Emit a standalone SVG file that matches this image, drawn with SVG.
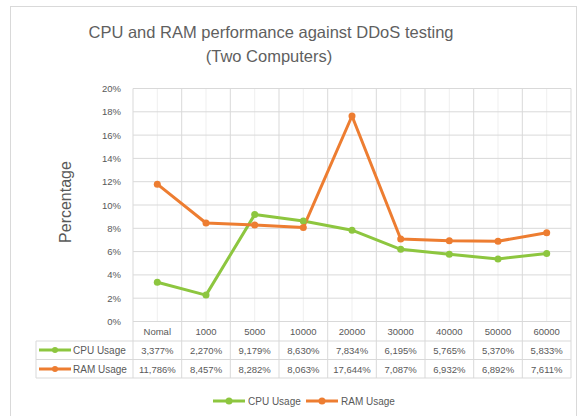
<svg xmlns="http://www.w3.org/2000/svg" width="579" height="416" viewBox="0 0 579 416">
<style>
text{font-family:"Liberation Sans",Arial,sans-serif;fill:#595959}
.title{font-size:16.5px;text-anchor:middle;fill:#5f5f5f}
.ax{font-size:9.5px;text-anchor:end}
.tb{font-size:9.5px;text-anchor:middle}
.lg{font-size:10px}
.grid{stroke:#d9d9d9;stroke-width:1}
.minor{stroke:#efefef;stroke-width:1}
.cpu{stroke:#8dc63f;stroke-width:3;fill:none;stroke-linejoin:round}
.ram{stroke:#ed7d31;stroke-width:3;fill:none;stroke-linejoin:round}
.cpuM{fill:#8dc63f}
.ramM{fill:#ed7d31}
</style>
<rect x="0" y="0" width="579" height="416" fill="#ffffff"/>
<rect x="10.5" y="6.5" width="566" height="420" fill="#ffffff" stroke="#d9d9d9"/>
<g id="title">
<text class="title" x="271" y="38">CPU and RAM performance against DDoS testing</text>
<text class="title" x="269" y="62">(Two Computers)</text>
</g>
<g id="axis-title"><text x="0" y="0" transform="translate(71,202) rotate(-90)" style="font-size:16px;text-anchor:middle">Percentage</text></g>
<g id="grid">
<path class="minor" d="M157.3 88.5V322M206 88.5V322M254.7 88.5V322M303.3 88.5V322M352 88.5V322M400.7 88.5V322M449.3 88.5V322M498 88.5V322M546.7 88.5V322"/>
<path class="grid" d="M133 88.5H571M133 111.8H571M133 135.1H571M133 158.4H571M133 181.7H571M133 205H571M133 228.3H571M133 251.6H571M133 274.9H571M133 298.2H571M133 321.5H571"/>
<path class="grid" d="M133 88.5V378M181.7 88.5V378M230.3 88.5V378M279 88.5V378M327.7 88.5V378M376.3 88.5V378M425 88.5V378M473.7 88.5V378M522.3 88.5V378M571 88.5V378"/>
</g>
<g id="y-axis">
<text class="ax" x="121" y="92">20%</text>
<text class="ax" x="121" y="115.3">18%</text>
<text class="ax" x="121" y="138.6">16%</text>
<text class="ax" x="121" y="161.9">14%</text>
<text class="ax" x="121" y="185.2">12%</text>
<text class="ax" x="121" y="208.5">10%</text>
<text class="ax" x="121" y="231.8">8%</text>
<text class="ax" x="121" y="255.1">6%</text>
<text class="ax" x="121" y="278.4">4%</text>
<text class="ax" x="121" y="301.7">2%</text>
<text class="ax" x="121" y="325">0%</text>
</g>
<g id="connectors">
<polyline class="cpu" points="157.3,282.2 206,295.1 254.7,214.6 303.3,221 352,230.2 400.7,249.3 449.3,254.3 498,258.9 546.7,253.5"/>
<polyline class="ram" points="157.3,184.2 206,223 254.7,225 303.3,227.6 352,116 400.7,239 449.3,240.7 498,241.2 546.7,232.8"/>
</g>
<g id="cpu-markers" class="cpuM">
<circle cx="157.3" cy="282.2" r="3.5"/><circle cx="206" cy="295.1" r="3.5"/><circle cx="254.7" cy="214.6" r="3.5"/><circle cx="303.3" cy="221" r="3.5"/><circle cx="352" cy="230.2" r="3.5"/><circle cx="400.7" cy="249.3" r="3.5"/><circle cx="449.3" cy="254.3" r="3.5"/><circle cx="498" cy="258.9" r="3.5"/><circle cx="546.7" cy="253.5" r="3.5"/>
</g>
<g id="ram-markers" class="ramM">
<circle cx="157.3" cy="184.2" r="3.5"/><circle cx="206" cy="223" r="3.5"/><circle cx="254.7" cy="225" r="3.5"/><circle cx="303.3" cy="227.6" r="3.5"/><circle cx="352" cy="116" r="3.5"/><circle cx="400.7" cy="239" r="3.5"/><circle cx="449.3" cy="240.7" r="3.5"/><circle cx="498" cy="241.2" r="3.5"/><circle cx="546.7" cy="232.8" r="3.5"/>
</g>
<g id="table">
<path class="grid" d="M36 341H571M36 359.5H571M36 378H571M36 341V378"/>
<text class="tb" x="157.3" y="334.5">Nomal</text>
<text class="tb" x="206" y="334.5">1000</text>
<text class="tb" x="254.7" y="334.5">5000</text>
<text class="tb" x="303.3" y="334.5">10000</text>
<text class="tb" x="352" y="334.5">20000</text>
<text class="tb" x="400.7" y="334.5">30000</text>
<text class="tb" x="449.3" y="334.5">40000</text>
<text class="tb" x="498" y="334.5">50000</text>
<text class="tb" x="546.7" y="334.5">60000</text>
<path class="cpu" d="M39 350H71"/><circle class="cpuM" cx="55" cy="350" r="3"/>
<text class="lg" x="73" y="353.5">CPU Usage</text>
<path class="ram" d="M39 369H71"/><circle class="ramM" cx="55" cy="369" r="3"/>
<text class="lg" x="73" y="372.5">RAM Usage</text>
<text class="tb" x="157.3" y="353.5">3,377%</text>
<text class="tb" x="206" y="353.5">2,270%</text>
<text class="tb" x="254.7" y="353.5">9,179%</text>
<text class="tb" x="303.3" y="353.5">8,630%</text>
<text class="tb" x="352" y="353.5">7,834%</text>
<text class="tb" x="400.7" y="353.5">6,195%</text>
<text class="tb" x="449.3" y="353.5">5,765%</text>
<text class="tb" x="498" y="353.5">5,370%</text>
<text class="tb" x="546.7" y="353.5">5,833%</text>
<text class="tb" x="157.3" y="372.5">11,786%</text>
<text class="tb" x="206" y="372.5">8,457%</text>
<text class="tb" x="254.7" y="372.5">8,282%</text>
<text class="tb" x="303.3" y="372.5">8,063%</text>
<text class="tb" x="352" y="372.5">17,644%</text>
<text class="tb" x="400.7" y="372.5">7,087%</text>
<text class="tb" x="449.3" y="372.5">6,932%</text>
<text class="tb" x="498" y="372.5">6,892%</text>
<text class="tb" x="546.7" y="372.5">7,611%</text>
</g>
<g id="legend">
<path class="cpu" d="M213 401H245"/><circle class="cpuM" cx="229" cy="401" r="3.5"/>
<text class="lg" x="248" y="404.5">CPU Usage</text>
<path class="ram" d="M306 401H338"/><circle class="ramM" cx="322" cy="401" r="3.5"/>
<text class="lg" x="341" y="404.5">RAM Usage</text>
</g>
</svg>
